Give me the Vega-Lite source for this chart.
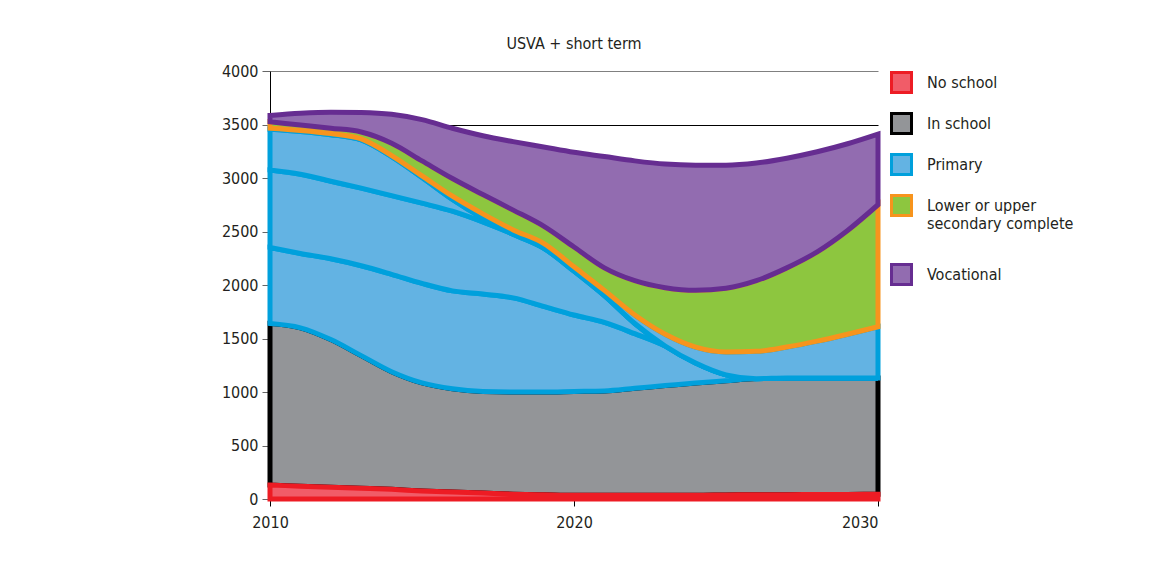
{
  "$schema": "https://vega.github.io/schema/vega-lite/v6.json",
  "width": 608,
  "height": 428,
  "autosize": {"type": "none"},
  "padding": {"left": 270, "top": 71, "right": 293, "bottom": 68},
  "background": "white",
  "title": {"text": "USVA + short term", "fontSize": 16, "fontWeight": "normal", "font": "DejaVu Sans Condensed", "color": "#231f20", "offset": 11},
  "config": {
    "view": {"stroke": null},
    "font": "DejaVu Sans Condensed",
    "axis": {"labelFont": "DejaVu Sans Condensed", "labelFontSize": 16, "labelColor": "#231f20", "title": null}
  },
  "data": {"values": [
    {"year": 2010, "R": 130, "L1": 1640, "L2": 2350, "L3": 3075, "L4": 3455, "G0": 3465, "GT": 3525, "VT": 3585},
    {"year": 2011, "R": 120, "L1": 1600, "L2": 2295, "L3": 3035, "L4": 3435, "G0": 3445, "GT": 3495, "VT": 3605},
    {"year": 2012, "R": 110, "L1": 1490, "L2": 2245, "L3": 2970, "L4": 3405, "G0": 3415, "GT": 3465, "VT": 3615},
    {"year": 2013, "R": 100, "L1": 1340, "L2": 2180, "L3": 2905, "L4": 3355, "G0": 3365, "GT": 3430, "VT": 3612},
    {"year": 2014, "R": 90, "L1": 1190, "L2": 2100, "L3": 2835, "L4": 3200, "G0": 3210, "GT": 3325, "VT": 3595},
    {"year": 2015, "R": 75, "L1": 1085, "L2": 2015, "L3": 2765, "L4": 3005, "G0": 3020, "GT": 3160, "VT": 3545},
    {"year": 2016, "R": 65, "L1": 1030, "L2": 1945, "L3": 2690, "L4": 2800, "G0": 2830, "GT": 2995, "VT": 3465},
    {"year": 2017, "R": 55, "L1": 1005, "L2": 1915, "L3": 2590, "L4": 2625, "G0": 2665, "GT": 2845, "VT": 3395},
    {"year": 2018, "R": 45, "L1": 1000, "L2": 1880, "L3": 2475, "L4": 2475, "G0": 2515, "GT": 2700, "VT": 3340},
    {"year": 2019, "R": 40, "L1": 1000, "L2": 1800, "L3": 2345, "L4": 2345, "G0": 2390, "GT": 2550, "VT": 3290},
    {"year": 2020, "R": 35, "L1": 1005, "L2": 1720, "L3": 2130, "L4": 2130, "G0": 2170, "GT": 2355, "VT": 3240},
    {"year": 2021, "R": 35, "L1": 1010, "L2": 1650, "L3": 1900, "L4": 1900, "G0": 1950, "GT": 2160, "VT": 3200},
    {"year": 2022, "R": 35, "L1": 1035, "L2": 1545, "L3": 1640, "L4": 1640, "G0": 1720, "GT": 2040, "VT": 3160},
    {"year": 2023, "R": 35, "L1": 1060, "L2": 1430, "L3": 1430, "L4": 1430, "G0": 1540, "GT": 1975, "VT": 3130},
    {"year": 2024, "R": 35, "L1": 1085, "L2": 1270, "L3": 1270, "L4": 1270, "G0": 1420, "GT": 1950, "VT": 3120},
    {"year": 2025, "R": 38, "L1": 1105, "L2": 1160, "L3": 1160, "L4": 1160, "G0": 1375, "GT": 1970, "VT": 3120},
    {"year": 2026, "R": 40, "L1": 1125, "L2": 1125, "L3": 1125, "L4": 1125, "G0": 1380, "GT": 2040, "VT": 3140},
    {"year": 2027, "R": 40, "L1": 1130, "L2": 1130, "L3": 1130, "L4": 1130, "G0": 1420, "GT": 2160, "VT": 3185},
    {"year": 2028, "R": 42, "L1": 1130, "L2": 1130, "L3": 1130, "L4": 1130, "G0": 1475, "GT": 2310, "VT": 3245},
    {"year": 2029, "R": 43, "L1": 1130, "L2": 1130, "L3": 1130, "L4": 1130, "G0": 1540, "GT": 2510, "VT": 3320},
    {"year": 2030, "R": 45, "L1": 1130, "L2": 1130, "L3": 1130, "L4": 1130, "G0": 1610, "GT": 2750, "VT": 3410}
  ]},
  "layer": [
    {
      "mark": {"type": "area", "interpolate": "monotone", "strokeWidth": 5},
      "encoding": {
        "x": {"field": "year", "type": "quantitative", "scale": {"domain": [2010, 2030], "nice": false},
          "axis": {"values": [2010, 2020, 2030], "format": "d", "grid": false, "domain": true, "domainColor": "#000", "tickColor": "#000", "tickSize": 7, "labelPadding": 8, "labelFlush": false,
            "labelAlign": {"condition": {"test": "datum.value === 2030", "value": "right"}, "value": "center"}}},
        "y": {"field": "L1", "type": "quantitative", "scale": {"domain": [0, 4000], "nice": false},
          "axis": {"values": [0, 500, 1000, 1500, 2000, 2500, 3000, 3500, 4000], "format": "d", "grid": true,
            "gridColor": {"condition": {"test": "datum.value === 4000", "value": "#808080"}, "value": "#000000"},
            "gridWidth": 1, "gridOpacity": 1, "domainColor": "#000", "tickColor": "#666", "tickSize": 8, "labelPadding": 4}},
        "y2": {"field": "R"},
        "fill": {"datum": "In school", "type": "nominal", "scale": {"domain": ["No school", "In school", "Primary", "Lower or upper secondary complete", "Vocational"], "range": ["#f15c68", "#939598", "#63b3e3", "#8dc63f", "#926cb0"]},
          "legend": {"orient": "none", "legendX": 620, "legendY": 0, "title": null, "symbolType": "square", "symbolSize": 400, "symbolStrokeWidth": 3, "symbolOpacity": 1, "labelFontSize": 16, "labelFont": "DejaVu Sans Condensed", "labelColor": "#231f20", "labelOffset": 14, "rowPadding": 8, "labelLimit": 300,
            "labelExpr": "datum.label == 'Lower or upper secondary complete' ? ['Lower or upper', 'secondary complete', ' '] : datum.label",
            "encode": {"symbols": {"update": {"stroke": {"scale": "stroke", "field": "value"}, "strokeWidth": {"value": 3}}}}}},
        "stroke": {"datum": "In school", "type": "nominal", "scale": {"domain": ["No school", "In school", "Primary", "Lower or upper secondary complete", "Vocational"], "range": ["#ed1c24", "#000000", "#00a0dc", "#f7941d", "#662d91"]}, "legend": null}
      }
    },
    {
      "mark": {"type": "area", "interpolate": "monotone", "strokeWidth": 5},
      "encoding": {"x": {"field": "year", "type": "quantitative"}, "y": {"field": "R", "type": "quantitative"}, "y2": {"datum": 0}, "fill": {"datum": "No school", "type": "nominal"}, "stroke": {"datum": "No school", "type": "nominal"}}
    },
    {
      "mark": {"type": "area", "interpolate": "monotone", "strokeWidth": 5},
      "encoding": {"x": {"field": "year", "type": "quantitative"}, "y": {"field": "L2", "type": "quantitative"}, "y2": {"field": "L1"}, "fill": {"datum": "Primary", "type": "nominal"}, "stroke": {"datum": "Primary", "type": "nominal"}}
    },
    {
      "mark": {"type": "area", "interpolate": "monotone", "strokeWidth": 5},
      "encoding": {"x": {"field": "year", "type": "quantitative"}, "y": {"field": "L3", "type": "quantitative"}, "y2": {"field": "L2"}, "fill": {"datum": "Primary", "type": "nominal"}, "stroke": {"datum": "Primary", "type": "nominal"}}
    },
    {
      "mark": {"type": "area", "interpolate": "monotone", "strokeWidth": 5},
      "encoding": {"x": {"field": "year", "type": "quantitative"}, "y": {"field": "L4", "type": "quantitative"}, "y2": {"field": "L3"}, "fill": {"datum": "Primary", "type": "nominal"}, "stroke": {"datum": "Primary", "type": "nominal"}}
    },
    {
      "mark": {"type": "area", "interpolate": "monotone", "strokeWidth": 5},
      "encoding": {"x": {"field": "year", "type": "quantitative"}, "y": {"field": "G0", "type": "quantitative"}, "y2": {"field": "L4"}, "fill": {"datum": "Primary", "type": "nominal"}, "stroke": {"datum": "Primary", "type": "nominal"}}
    },
    {
      "mark": {"type": "area", "interpolate": "monotone", "strokeWidth": 5},
      "encoding": {"x": {"field": "year", "type": "quantitative"}, "y": {"field": "GT", "type": "quantitative"}, "y2": {"field": "G0"}, "fill": {"datum": "Lower or upper secondary complete", "type": "nominal"}, "stroke": {"datum": "Lower or upper secondary complete", "type": "nominal"}}
    },
    {
      "mark": {"type": "area", "interpolate": "monotone", "strokeWidth": 5},
      "encoding": {"x": {"field": "year", "type": "quantitative"}, "y": {"field": "VT", "type": "quantitative"}, "y2": {"field": "GT"}, "fill": {"datum": "Vocational", "type": "nominal"}, "stroke": {"datum": "Vocational", "type": "nominal"}}
    }
  ]
}
